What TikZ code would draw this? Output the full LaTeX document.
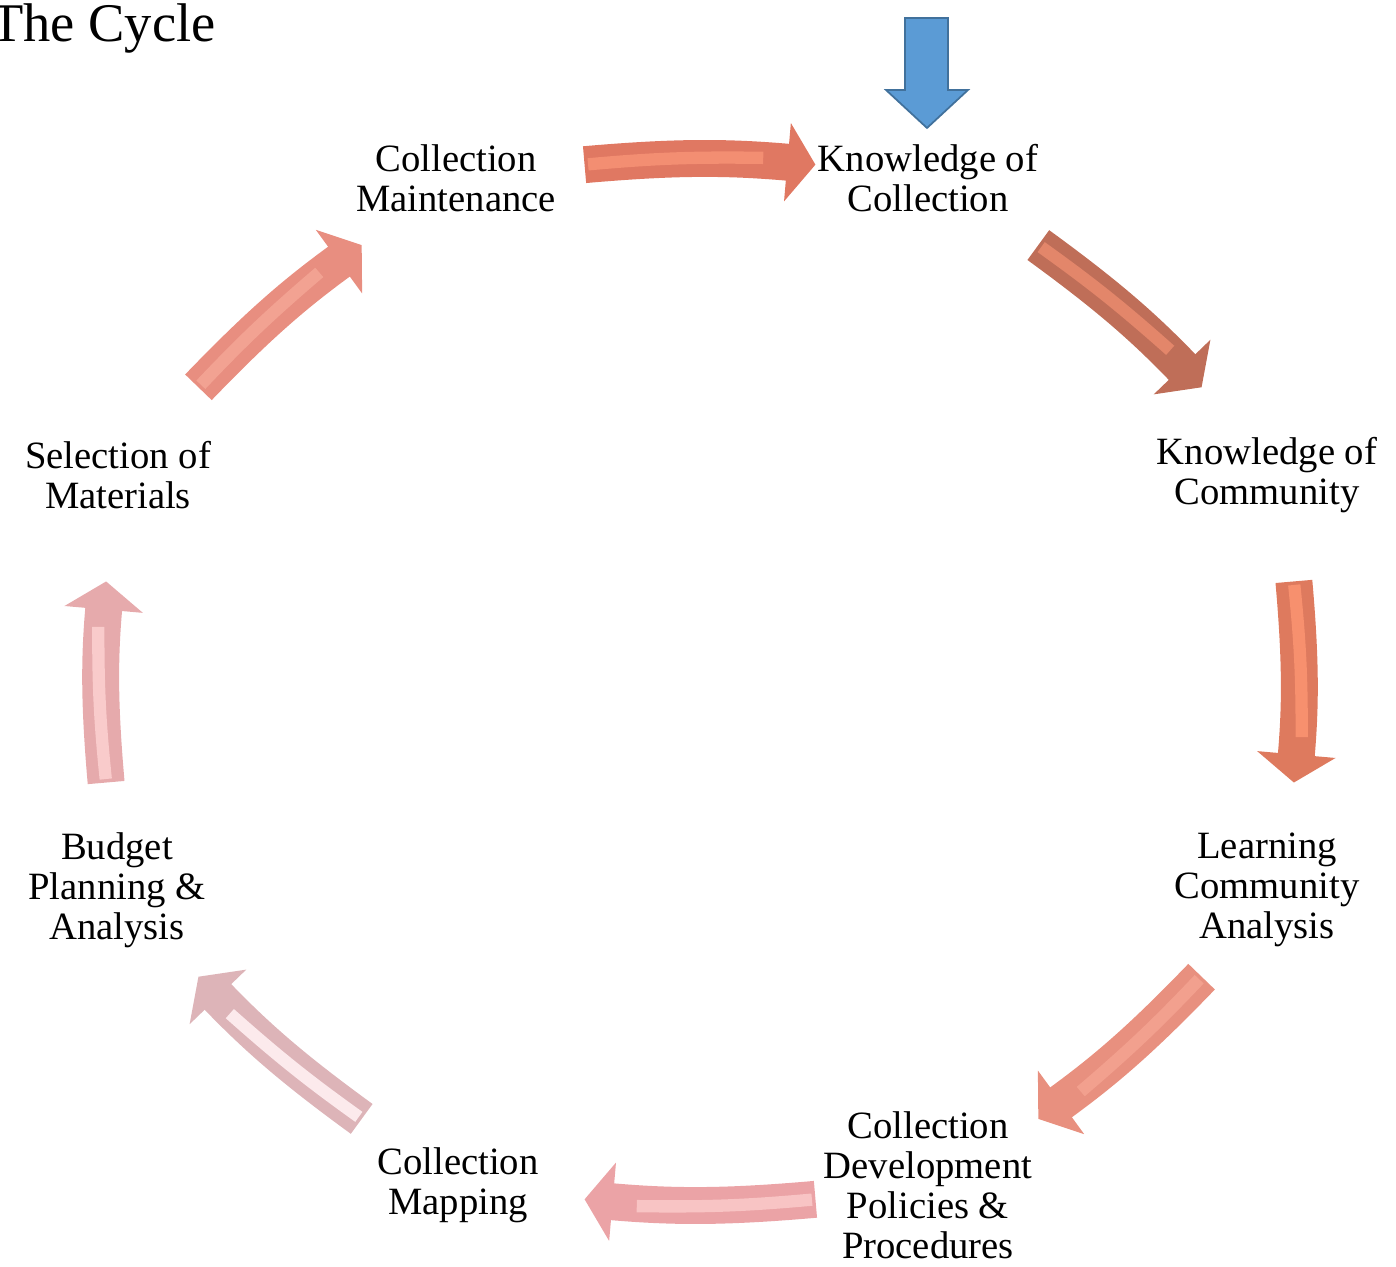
\documentclass[tikz,border=0pt]{standalone}
\usepackage{fontspec}
\setmainfont{Liberation Serif}
\usetikzlibrary{arrows.meta}
\definecolor{ar1}{HTML}{E07862}\definecolor{ar1l}{HTML}{F38E72}
\definecolor{ar2}{HTML}{BF6E58}\definecolor{ar2l}{HTML}{E3866A}
\definecolor{ar3}{HTML}{DE7A5E}\definecolor{ar3l}{HTML}{F7906E}
\definecolor{ar4}{HTML}{E8907F}\definecolor{ar4l}{HTML}{F2A08E}
\definecolor{ar5}{HTML}{EBA3A6}\definecolor{ar5l}{HTML}{F8C4C4}
\definecolor{ar6}{HTML}{DDB4B8}\definecolor{ar6l}{HTML}{FCEAEC}
\definecolor{ar7}{HTML}{E6AAAC}\definecolor{ar7l}{HTML}{F9CBCB}
\definecolor{ar8}{HTML}{E88E80}\definecolor{ar8l}{HTML}{F2A292}
\definecolor{startblue}{HTML}{5B9BD5}\definecolor{startblued}{HTML}{41719C}
\tikzset{
  stage/.style={align=center, font=\fontsize{22}{22.7}\selectfont, inner sep=0pt},
  cyclearrow/.style={line width=21pt, -{Triangle[length=16pt 0, width=44pt 0]}},
  bevel/.style={line width=7pt},
}

\begin{document}
\begin{tikzpicture}[x=0.02cm, y=0.02cm]
\useasboundingbox (0,0) rectangle (1396,1267);

\node[anchor=base west, font=\fontsize{31}{36}\selectfont, inner sep=0pt] (title) at (-10,1225) {The Cycle};

% stages of the cycle
\node[stage] (maint) at (456,1089) {Collection\\Maintenance};
\node[stage] (kcoll) at (928,1089) {Knowledge of\\Collection};
\node[stage] (kcomm) at (1267,792) {Knowledge of\\Community};
\node[stage] (lca) at (1267,377) {Learning\\Community\\Analysis};
\node[stage] (cdpp) at (928,82) {Collection\\Development\\Policies \&\\Procedures};
\node[stage] (mapping) at (458,82) {Collection\\Mapping};
\node[stage] (budget) at (117,377) {Budget\\Planning \&\\Analysis};
\node[stage] (select) at (118,792) {Selection of\\Materials};

% arrows round the ellipse
\foreach \a/\ec/\lc in {90/ar1/ar1l, 45/ar2/ar2l, 0/ar3/ar3l, -45/ar4/ar4l,
  -90/ar5/ar5l, -135/ar6/ar6l, -180/ar7/ar7l, -225/ar8/ar8l}{
  \coordinate (from) at ({700+605*cos(\a+11)},{585+527*sin(\a+11)});
  \coordinate (to) at ({700+605*cos(\a-11)},{585+527*sin(\a-11)});
  \coordinate (mid) at ({700+605*cos(\a-6)},{585+527*sin(\a-6)});
  \draw[cyclearrow, \ec] (from) to[bend left=5] (to);
  \draw[bevel, \lc, shorten <=2pt] (from) to[bend left=3] (mid);
}

% entry point
\coordinate (entry) at (927,1139);
\filldraw[fill=startblue, draw=startblued, line width=1pt]
  (905,1249) -- (948,1249) -- (948,1177) -- (968,1177) -- (entry)
  -- (886,1177) -- (905,1177) -- cycle;

\end{tikzpicture}
\end{document}
